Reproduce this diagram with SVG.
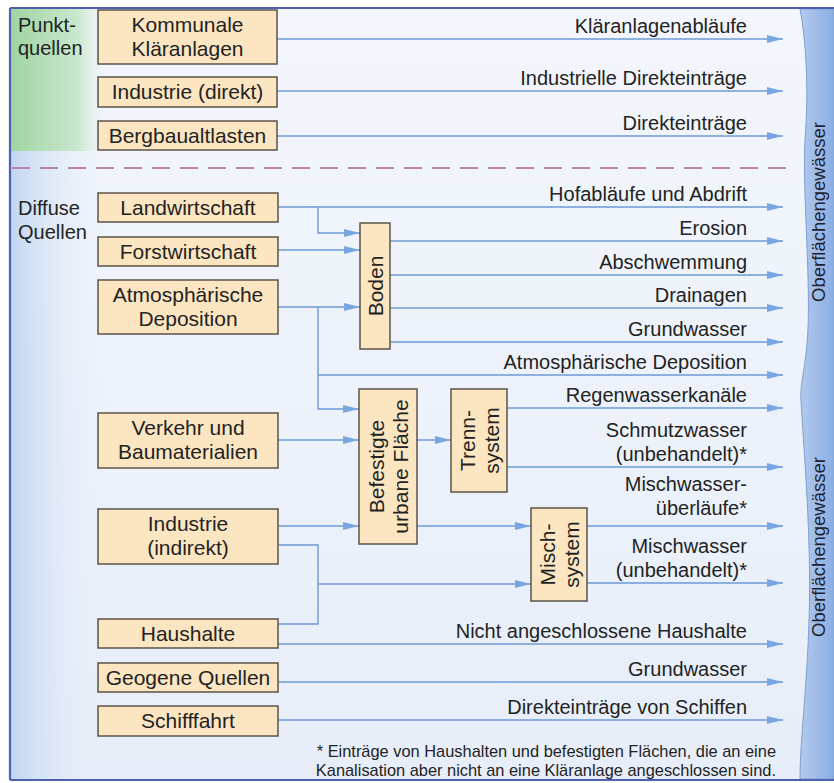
<svg xmlns="http://www.w3.org/2000/svg" width="834" height="783" viewBox="0 0 834 783">
<defs>
<linearGradient id="bg" x1="0" y1="0" x2="0" y2="1">
<stop offset="0" stop-color="#f3f6fc"/>
<stop offset="1" stop-color="#e7eef9"/>
</linearGradient>
<linearGradient id="leftBlue" x1="0" y1="0" x2="1" y2="0">
<stop offset="0" stop-color="#c2d6f1"/>
<stop offset="1" stop-color="#e9f0fa" stop-opacity="0"/>
</linearGradient>
<linearGradient id="leftGreen" x1="0" y1="0" x2="1" y2="0">
<stop offset="0" stop-color="#9fd5a2"/>
<stop offset="0.7" stop-color="#c9e7cd"/>
<stop offset="1" stop-color="#e4f0ea" stop-opacity="0"/>
</linearGradient>
<linearGradient id="panel" x1="0" y1="0" x2="1" y2="0">
<stop offset="0" stop-color="#b3caee"/>
<stop offset="1" stop-color="#8aaee2"/>
</linearGradient>
<marker id="arr" markerUnits="userSpaceOnUse" markerWidth="16" markerHeight="8" refX="16" refY="4" orient="auto">
<path d="M0,0 L16,4 L0,8 z" fill="#78a6e2"/>
</marker>
<style>
.box { fill:#fce6c2; stroke:#5b5348; stroke-width:1.5; }
.t { font-family:"Liberation Sans", Arial, Helvetica, sans-serif; font-size:21px; fill:#232323; text-anchor:middle; }
.side { font-family:"Liberation Sans", Arial, Helvetica, sans-serif; font-size:20px; fill:#232323; }
.lbl { font-family:"Liberation Sans", Arial, Helvetica, sans-serif; font-size:20px; fill:#232323; text-anchor:end; }
.foot { font-family:"Liberation Sans", Arial, Helvetica, sans-serif; font-size:16.4px; fill:#232323; text-anchor:end; }
.ow { font-family:"Liberation Sans", Arial, Helvetica, sans-serif; font-size:18.5px; fill:#1e2230; }
.c { fill:none; stroke:#6c9ad6; stroke-width:1.4; }
.a { marker-end:url(#arr); }
</style>
</defs>

<g id="background">
<rect x="10" y="8" width="824" height="772" fill="url(#bg)"/>
<rect x="11" y="150" width="95" height="629" fill="url(#leftBlue)"/>
<rect x="11" y="9" width="95" height="142" fill="url(#leftGreen)"/>
<path d="M800,9 C806,40 809,90 805,140 C802,190 812,290 807,345 C804,375 800,385 801,400 C803,440 812,540 809,620 C807,690 800,740 800,779 L834,779 L834,9 Z" fill="url(#panel)" stroke="#7f9ed0" stroke-width="1"/>
<path d="M10,8 H834 M10,780 H834 M10,8 V780" fill="none" stroke="#4d60b4" stroke-width="2.2"/>
<path d="M12,168 H790" stroke="#b985aa" stroke-width="2.2" stroke-dasharray="18 10"/>
<text class="ow" transform="translate(825,302) rotate(-90)">Oberflächengewässer</text>
<text class="ow" transform="translate(825,637) rotate(-90)">Oberflächengewässer</text>
</g>

<g id="group-labels">
<text class="side" x="18" y="32">Punkt-</text>
<text class="side" x="18" y="55">quellen</text>
<text class="side" x="18" y="215">Diffuse</text>
<text class="side" x="18" y="239">Quellen</text>
</g>

<g id="connectors">
<path class="c a" d="M277,39 H783"/>
<path class="c a" d="M277,91 H783"/>
<path class="c a" d="M277,136 H783"/>
<path class="c a" d="M278,207 H783"/>
<path class="c a" d="M318,207 V233 H360"/>
<path class="c a" d="M278,250 H360"/>
<path class="c a" d="M278,307 H360"/>
<path class="c a" d="M318,307 V409 H359"/>
<path class="c a" d="M318,375 H783"/>
<path class="c a" d="M390,241 H783"/>
<path class="c a" d="M390,275 H783"/>
<path class="c a" d="M390,308 H783"/>
<path class="c a" d="M390,342 H783"/>
<path class="c a" d="M278,440 H359"/>
<path class="c a" d="M417,440 H451"/>
<path class="c a" d="M417,526 H531"/>
<path class="c a" d="M278,526 H359"/>
<path class="c" d="M278,545 H318 V624 H278"/>
<path class="c a" d="M318,584 H531"/>
<path class="c a" d="M507,408 H783"/>
<path class="c a" d="M507,467 H783"/>
<path class="c a" d="M587,526 H783"/>
<path class="c a" d="M587,583 H783"/>
<path class="c a" d="M278,644 H783"/>
<path class="c a" d="M278,682 H783"/>
<path class="c a" d="M278,720 H783"/>
</g>

<g id="edge-labels">
<text class="lbl" x="747" y="33">Kläranlagenabläufe</text>
<text class="lbl" x="747" y="85">Industrielle Direkteinträge</text>
<text class="lbl" x="747" y="130">Direkteinträge</text>
<text class="lbl" x="747" y="201">Hofabläufe und Abdrift</text>
<text class="lbl" x="747" y="235">Erosion</text>
<text class="lbl" x="747" y="269">Abschwemmung</text>
<text class="lbl" x="747" y="302">Drainagen</text>
<text class="lbl" x="747" y="336">Grundwasser</text>
<text class="lbl" x="747" y="369">Atmosphärische Deposition</text>
<text class="lbl" x="747" y="402">Regenwasserkanäle</text>
<text class="lbl" x="747" y="437">Schmutzwasser</text>
<text class="lbl" x="747" y="461">(unbehandelt)*</text>
<text class="lbl" x="747" y="491">Mischwasser-</text>
<text class="lbl" x="747" y="515">überläufe*</text>
<text class="lbl" x="747" y="553">Mischwasser</text>
<text class="lbl" x="747" y="577">(unbehandelt)*</text>
<text class="lbl" x="747" y="638">Nicht angeschlossene Haushalte</text>
<text class="lbl" x="747" y="676">Grundwasser</text>
<text class="lbl" x="747" y="714">Direkteinträge von Schiffen</text>
</g>

<g id="n-kommunale"><rect class="box" x="98" y="10" width="179" height="54"/><text class="t" x="187.5" y="32">Kommunale</text><text class="t" x="187.5" y="56">Kläranlagen</text></g>
<g id="n-industrie-direkt"><rect class="box" x="98" y="77" width="179" height="30"/><text class="t" x="187.5" y="99">Industrie (direkt)</text></g>
<g id="n-bergbau"><rect class="box" x="98" y="121" width="179" height="29"/><text class="t" x="187.5" y="143">Bergbaualtlasten</text></g>
<g id="n-landwirtschaft"><rect class="box" x="98" y="193" width="180" height="29"/><text class="t" x="188" y="215">Landwirtschaft</text></g>
<g id="n-forstwirtschaft"><rect class="box" x="98" y="237" width="180" height="29"/><text class="t" x="188" y="259">Forstwirtschaft</text></g>
<g id="n-atmos"><rect class="box" x="98" y="280" width="180" height="54"/><text class="t" x="188" y="302">Atmosphärische</text><text class="t" x="188" y="326">Deposition</text></g>
<g id="n-verkehr"><rect class="box" x="98" y="413" width="180" height="55"/><text class="t" x="188" y="435">Verkehr und</text><text class="t" x="188" y="459">Baumaterialien</text></g>
<g id="n-industrie-indirekt"><rect class="box" x="98" y="509" width="180" height="55"/><text class="t" x="188" y="531">Industrie</text><text class="t" x="188" y="555">(indirekt)</text></g>
<g id="n-haushalte"><rect class="box" x="98" y="619" width="180" height="29"/><text class="t" x="188" y="641">Haushalte</text></g>
<g id="n-geogen"><rect class="box" x="98" y="663" width="180" height="29"/><text class="t" x="188" y="685">Geogene Quellen</text></g>
<g id="n-schifffahrt"><rect class="box" x="98" y="706" width="180" height="30"/><text class="t" x="188" y="728">Schifffahrt</text></g>

<g id="n-boden"><rect class="box" x="360" y="223" width="30" height="126"/><text class="t" transform="translate(382.5,286) rotate(-90)">Boden</text></g>
<g id="n-befestigte"><rect class="box" x="359" y="389" width="58" height="155"/><text class="t" transform="translate(383.5,466.5) rotate(-90)">Befestigte</text><text class="t" transform="translate(407.5,466.5) rotate(-90)">urbane Fläche</text></g>
<g id="n-trenn"><rect class="box" x="451" y="389" width="56" height="103"/><text class="t" transform="translate(474.5,440.5) rotate(-90)">Trenn-</text><text class="t" transform="translate(498.5,440.5) rotate(-90)">system</text></g>
<g id="n-misch"><rect class="box" x="531" y="508" width="56" height="93"/><text class="t" transform="translate(554.5,554.5) rotate(-90)">Misch-</text><text class="t" transform="translate(578.5,554.5) rotate(-90)">system</text></g>

<g id="footnote">
<text class="foot" x="776" y="757">* Einträge von Haushalten und befestigten Flächen, die an eine</text>
<text class="foot" x="776" y="776">Kanalisation aber nicht an eine Kläranlage angeschlossen sind.</text>
</g>
</svg>
